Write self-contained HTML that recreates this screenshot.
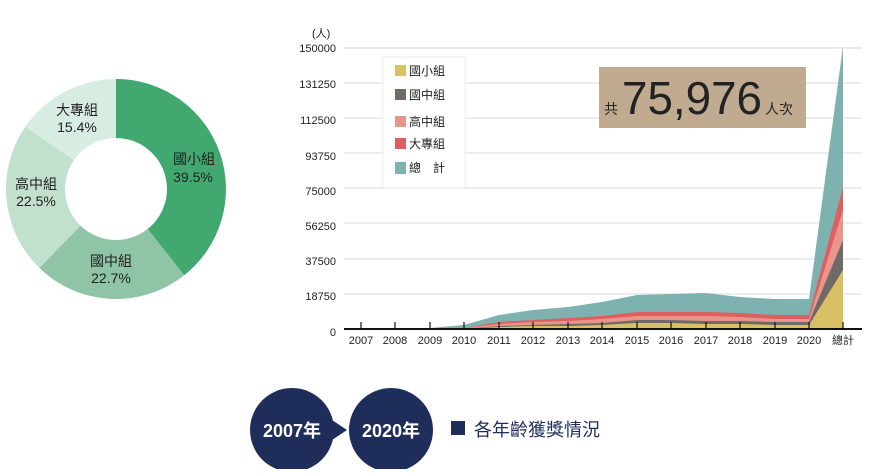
<!DOCTYPE html>
<html><head><meta charset="utf-8"><style>
body{margin:0;background:#fff;}
svg text{font-family:"Liberation Sans","Noto Sans CJK TC",sans-serif;}
</style></head><body>
<svg width="890" height="469" viewBox="0 0 890 469" xmlns="http://www.w3.org/2000/svg">
<g transform="translate(116,189)">
<path d="M0,-110 A110,110 0 0 1 68.2,86.3 L31.6,40 A51,51 0 0 0 0,-51Z" fill="#41a96f"/>
<path d="M68.2,86.3 A110,110 0 0 1 -76.6,78.9 L-35.5,36.6 A51,51 0 0 0 31.6,40Z" fill="#8fc4a6"/>
<path d="M-76.6,78.9 A110,110 0 0 1 -90.6,-62.4 L-42,-28.9 A51,51 0 0 0 -35.5,36.6Z" fill="#c2e0ce"/>
<path d="M-90.6,-62.4 A110,110 0 0 1 0,-110 L0,-51 A51,51 0 0 0 -42,-28.9Z" fill="#d8ede1"/>
</g>
<g font-size="14" fill="#222" text-anchor="middle">
<text x="194" y="164">國小組</text><text x="193" y="182">39.5%</text>
<text x="111" y="266">國中組</text><text x="111" y="283">22.7%</text>
<text x="36" y="189">高中組</text><text x="36" y="206">22.5%</text>
<text x="77" y="115">大專組</text><text x="77" y="132">15.4%</text>
</g>
<g stroke="#e6e6e6" stroke-width="1.5">
<line x1="344" y1="48" x2="862" y2="48"/><line x1="344" y1="83" x2="862" y2="83"/>
<line x1="344" y1="118" x2="862" y2="118"/><line x1="344" y1="153" x2="862" y2="153"/>
<line x1="344" y1="188" x2="862" y2="188"/><line x1="344" y1="223" x2="862" y2="223"/>
<line x1="344" y1="259" x2="862" y2="259"/><line x1="344" y1="294" x2="862" y2="294"/>
</g>
<g font-size="11" fill="#222" text-anchor="end">
<text x="312" y="37" text-anchor="start" font-size="11">(人)</text>
<text x="336" y="52">150000</text><text x="336" y="88">131250</text><text x="336" y="124">112500</text>
<text x="336" y="160">93750</text><text x="336" y="195">75000</text><text x="336" y="230">56250</text>
<text x="336" y="265">37500</text><text x="336" y="300">18750</text><text x="336" y="336">0</text>
</g>
<path d="M361,329 L430,328 L464,325 L499,315 L533,310 L568,307 L602,302 L637,295 L671,294 L706,293 L740,297 L775,299 L809,299 L843,46 L843,329Z" fill="#7eb2b0"/>
<path d="M361,329 L464,328 L499,322 L533,320 L568,318 L602,316 L637,312 L671,312 L706,312 L740,313 L775,315 L809,315 L843,187 L843,329Z" fill="#de5f5f"/>
<path d="M361,329 L464,328 L499,324 L533,322 L568,321 L602,319 L637,316 L671,316 L706,316 L740,317 L775,319 L809,319 L843,210 L843,329Z" fill="#e8968c"/>
<path d="M361,329 L464,329 L499,326 L533,325 L568,324 L602,323 L637,320 L671,320 L706,321 L740,321 L775,322 L809,322 L843,240 L843,329Z" fill="#6f6a67"/>
<path d="M361,329 L464,329 L499,327 L533,326 L568,326 L602,325 L637,323 L671,323 L706,324 L740,324 L775,325 L809,325 L843,270 L843,329Z" fill="#d8c165"/>
<line x1="344" y1="329" x2="862" y2="329" stroke="#111" stroke-width="2"/>
<g stroke="#111" stroke-width="1.2">
<line x1="361" y1="322" x2="361" y2="329"/><line x1="395" y1="322" x2="395" y2="329"/><line x1="430" y1="322" x2="430" y2="329"/><line x1="464" y1="322" x2="464" y2="329"/><line x1="499" y1="322" x2="499" y2="329"/><line x1="533" y1="322" x2="533" y2="329"/><line x1="568" y1="322" x2="568" y2="329"/><line x1="602" y1="322" x2="602" y2="329"/><line x1="637" y1="322" x2="637" y2="329"/><line x1="671" y1="322" x2="671" y2="329"/><line x1="706" y1="322" x2="706" y2="329"/><line x1="740" y1="322" x2="740" y2="329"/><line x1="775" y1="322" x2="775" y2="329"/><line x1="809" y1="322" x2="809" y2="329"/><line x1="843" y1="322" x2="843" y2="329"/>
</g>
<g font-size="11" fill="#222" text-anchor="middle">
<text x="361" y="344">2007</text><text x="395" y="344">2008</text><text x="430" y="344">2009</text><text x="464" y="344">2010</text><text x="499" y="344">2011</text><text x="533" y="344">2012</text><text x="568" y="344">2013</text><text x="602" y="344">2014</text><text x="637" y="344">2015</text><text x="671" y="344">2016</text><text x="706" y="344">2017</text><text x="740" y="344">2018</text><text x="775" y="344">2019</text><text x="809" y="344">2020</text><text x="843" y="344">總計</text>
</g>
<rect x="383" y="57" width="82" height="131" fill="#fff" stroke="#eee"/>
<g font-size="12" fill="#222">
<rect x="395" y="65" width="11" height="11" fill="#d8c165"/><text x="409" y="75">國小組</text>
<rect x="395" y="89" width="11" height="11" fill="#6f6a67"/><text x="409" y="99">國中組</text>
<rect x="395" y="116" width="11" height="11" fill="#e8968c"/><text x="409" y="126">高中組</text>
<rect x="395" y="138" width="11" height="11" fill="#de5f5f"/><text x="409" y="148">大專組</text>
<rect x="395" y="162" width="11" height="12" fill="#7eb2b0"/><text x="409" y="172">總　計</text>
</g>
<rect x="599" y="67" width="207" height="61" fill="#c0ab91"/>
<text x="604" y="114" font-size="14" fill="#222">共</text>
<text x="622" y="114" font-size="46" fill="#222" textLength="140" lengthAdjust="spacingAndGlyphs">75,976</text>
<text x="765" y="114" font-size="14" fill="#222">人次</text>
<circle cx="292" cy="430" r="42" fill="#1f2d5a"/>
<circle cx="391" cy="430" r="42" fill="#1f2d5a"/>
<polygon points="332,420 347,430 332,440" fill="#1f2d5a"/>
<text x="292" y="437" font-size="18" font-weight="bold" fill="#fff" text-anchor="middle">2007年</text>
<text x="391" y="437" font-size="18" font-weight="bold" fill="#fff" text-anchor="middle">2020年</text>
<rect x="451" y="421" width="14" height="14" fill="#1f2d5a"/>
<text x="474" y="436" font-size="18" fill="#1f2d5a">各年齡獲獎情況</text>
</svg>
</body></html>
